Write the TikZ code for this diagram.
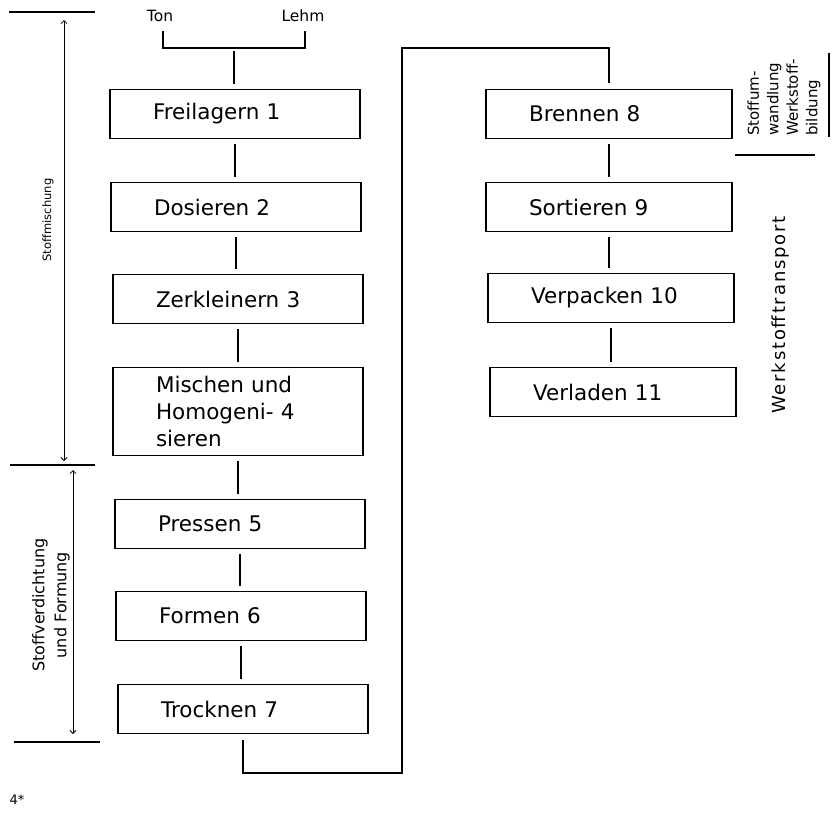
\documentclass[tikz,border=0pt]{standalone}
\usepackage{fontspec}
\setmainfont{DejaVu Sans}
\usetikzlibrary{arrows.meta}
\begin{document}
\begin{tikzpicture}[x=1pt,y=-1pt,
  ln/.style={line width=1.2pt},
  stepbox/.style={draw,line width=1.3pt,minimum height=49pt,text width=164pt,inner xsep=43pt,inner ysep=0pt,align=left,font=\fontsize{21.5}{27}\selectfont},
  rstepbox/.style={stepbox,text width=160pt},
  conn/.style={ln,shorten <=5pt,shorten >=5pt},
  dim/.style={line width=0.8pt,{Straight Barb[length=3pt,width=6pt]}-{Straight Barb[length=3pt,width=6pt]}},
  small/.style={font=\fontsize{15.5}{17}\selectfont,inner sep=0pt}]
\useasboundingbox (0,0) rectangle (832,828);
% input bracket
\node[small] (ton) at (160,16) {Ton};
\node[small] (lehm) at (303,16) {Lehm};
\coordinate (tl) at (163,31);
\coordinate (tr) at (305,31);
\coordinate (tm) at (234,48);
\draw[ln] (tl) -- (tl |- tm) -- (tr |- tm) -- (tr);
% left column
\node[stepbox] (b1) at (235,114) {Freilagern 1};
\node[stepbox] (b2) at (236,207) {Dosieren 2};
\node[stepbox] (b3) at (238,299) {Zerkleinern 3};
\node[stepbox,minimum height=88pt] (b4) at (238,411.5) {Mischen und\\Homogeni- 4\\sieren};
\node[stepbox] (b5) at (240,524) {Pressen 5};
\node[stepbox] (b6) at (241,616) {Formen 6};
\node[stepbox] (b7) at (243,709) {Trocknen 7};
% right column
\node[rstepbox] (b8) at (609,114) {Brennen 8};
\node[rstepbox] (b9) at (609,207) {Sortieren 9};
\node[rstepbox] (b10) at (611,298) {Verpacken 10};
\node[rstepbox] (b11) at (613,392) {Verladen 11};
% connectors
\draw[ln,shorten <=3pt,shorten >=5pt] (tm) -- (tm |- b1.north);
\foreach \a/\b in {b1/b2,b2/b3,b3/b4,b4/b5,b5/b6,b6/b7,b8/b9,b9/b10,b10/b11}
  \draw[conn] (\a.south) -- (\a.south |- \b.north);
\coordinate (lb) at (402,773);
\coordinate (lt) at (402,48);
\draw[ln,shorten <=6pt,shorten >=6pt] (b7.south) -- (b7.south |- lb) -- (lb) -- (lt) -- (lt -| b8.north) -- (b8.north);
% left dimension lines
\coordinate (h1a) at (9,12);  \coordinate (h1b) at (95,12);
\coordinate (h2a) at (10,465); \coordinate (h2b) at (95,465);
\coordinate (h3a) at (14,742); \coordinate (h3b) at (100,742);
\draw[ln] (h1a) -- (h1b);
\draw[ln] (h2a) -- (h2b);
\draw[ln] (h3a) -- (h3b);
\coordinate (d1t) at (64,20); \coordinate (d1b) at (64,461);
\coordinate (d2t) at (73,470); \coordinate (d2b) at (73,734);
\draw[dim] (d1t) -- (d1b);
\draw[dim] (d2t) -- (d2b);
\node[rotate=90,font=\fontsize{11.5}{13}\selectfont,inner sep=0pt] (lab1) at (48,220) {Stoffmischung};
\node[rotate=90,align=center,font=\fontsize{16}{22}\selectfont,inner sep=0pt] (lab2) at (51,605) {Stoffverdichtung\\und Formung};
% right labels
\node[rotate=90,anchor=west,align=left,font=\fontsize{15}{19.5}\selectfont,inner sep=0pt] (lab3) at (784,136) {Stoffum-\\wandlung\\Werkstoff-\\bildung};
\coordinate (r1a) at (735,155); \coordinate (r1b) at (815,155);
\draw[ln] (r1a) -- (r1b);
\coordinate (r2a) at (829,53); \coordinate (r2b) at (829,137);
\draw[ln] (r2a) -- (r2b);
\node[rotate=90,font=\fontsize{18}{20}\selectfont\addfontfeature{LetterSpace=10}, inner sep=0pt] (lab4) at (781,315) {Werkstofftransport};
% page mark
\node[inner sep=0pt,font=\fontsize{13}{15}\selectfont] (pg) at (17,800) {4*};
\end{tikzpicture}
\end{document}
